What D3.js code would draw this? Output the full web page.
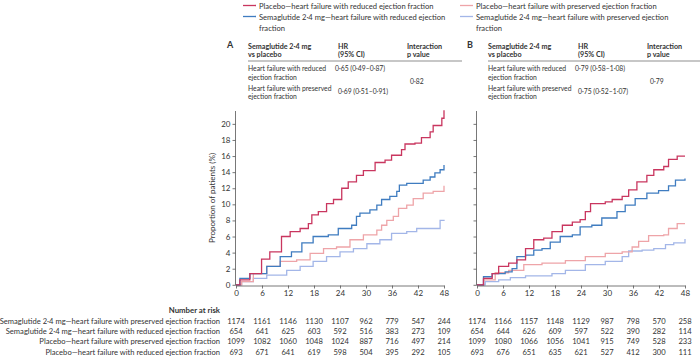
<!DOCTYPE html>
<html>
<head>
<meta charset="utf-8">
<script src="https://cdn.jsdelivr.net/npm/d3@7"></script>
<style>
  body { margin: 0; background: #fff; }
  svg text { font-family: Lato, "Open Sans", sans-serif; fill: #333; }
</style>
</head>
<body>
<svg id="chart" width="700" height="363"></svg>
<script>
// month ticks used for x axis + number at risk
const months = [0, 6, 12, 18, 24, 30, 36, 42, 48];
const yTicks = [0, 2, 4, 6, 8, 10, 12, 14, 16, 18, 20];

// cumulative incidence, [month, %], panel A
const aPlaceboRed = [[0,0],[0.9,0.6],[3.2,1.4],[5.9,3.2],[7.8,4.1],[10.5,6.0],[12.5,6.6],[14.8,7.0],[16.7,7.6],[17.5,8.7],[19,9.1],[20.9,10.1],[22.5,10.6],[24.4,12.0],[25.9,12.8],[27.8,13.6],[29.4,14.2],[32.1,15.2],[34.4,15.5],[35.9,16.1],[38.2,16.8],[39,17.5],[41.3,17.6],[42.8,18.3],[44.8,19.0],[45.5,19.8],[47.5,20.7],[48,21.7]];
const aSemaRed = [[0,0],[0.9,0.8],[3.2,1.4],[7.1,2.3],[10.2,3.5],[12.8,4.1],[15.2,5.2],[17.8,6.0],[21.3,6.2],[23.6,7.0],[26.7,7.4],[27.8,8.5],[28.6,8.9],[30.9,9.3],[32.5,9.9],[33.6,10.6],[35.5,11.0],[37.1,11.6],[37.7,12.4],[39.4,12.6],[43.2,13.0],[44.8,13.4],[45.9,13.9],[47.1,14.3],[48,14.9]];
const aPlaceboPres = [[0,0],[1.3,0.4],[4,1.4],[7.1,2.3],[10.2,2.9],[14,3.1],[17.1,3.9],[20.2,4.5],[23.2,4.7],[26.3,5.6],[29.4,6.2],[32.5,6.8],[33.6,7.4],[34.8,8.0],[36.3,8.5],[37.5,9.5],[39.4,9.9],[40.9,10.7],[43.2,11.4],[45.5,11.6],[48,12.3]];
const aSemaPres = [[0,0],[1.3,0.4],[4,0.8],[7.1,1.2],[11.7,1.8],[14.8,2.3],[17.8,2.9],[20.9,3.5],[24,4.1],[27.1,4.5],[30.2,5.1],[33.2,5.6],[35.9,6.4],[39.4,6.6],[41.7,7.0],[47.1,8.0],[48,8.1]];

// panel B
const bPlaceboRed = [[0,0],[1.5,0.8],[3.5,1.4],[5,2.3],[7.3,2.7],[9.2,3.1],[11.2,4.5],[13.1,5.6],[15.4,5.8],[17.3,6.6],[19.7,7.4],[22,7.8],[23.8,8.1],[25,9.1],[26.2,10.1],[29.6,10.3],[31.2,10.6],[33.5,11.0],[35,11.8],[36.9,12.8],[39.2,13.6],[40.8,14.3],[43.1,14.7],[44.2,15.6],[46.2,16.0],[48,16.0]];
const bSemaRed = [[0,0],[1.5,1.0],[3.5,1.4],[6.5,1.6],[8.1,2.0],[9.2,3.5],[11.2,3.7],[13.1,4.3],[15,4.5],[16.9,5.3],[19.2,6.0],[22,6.2],[23.8,7.2],[26.5,7.4],[28.8,8.3],[32.3,9.1],[34.2,9.9],[36.5,10.7],[39.2,11.4],[41.9,11.7],[44.2,12.3],[45.8,13.0],[48,13.2]];
const bPlaceboPres = [[0,0],[1.5,0.6],[4.2,1.5],[7.3,1.8],[10.8,2.5],[15,2.7],[20.4,3.0],[25,3.5],[29.6,3.9],[33.5,4.1],[35.8,4.7],[37.3,5.4],[39.6,6.1],[43.1,6.2],[44.2,7.0],[46.2,7.6],[48,7.6]];
const bSemaPres = [[0,0],[1.9,0.4],[5,0.6],[7.7,0.9],[11.2,1.1],[17.3,1.4],[20.4,1.8],[25,2.5],[29.6,2.9],[33.5,3.5],[35,4.2],[38.1,4.3],[40.8,4.5],[43.5,5.0],[45.4,5.2],[48,5.7]];

// number at risk rows
const riskLabels = [
  "Semaglutide 2·4 mg—heart failure with preserved ejection fraction",
  "Semaglutide 2·4 mg—heart failure with reduced ejection fraction",
  "Placebo—heart failure with preserved ejection fraction",
  "Placebo—heart failure with reduced ejection fraction"
];
const riskA = [
  [1174,1161,1146,1130,1107,962,779,547,244],
  [654,641,625,603,592,516,383,273,109],
  [1099,1082,1060,1048,1024,887,716,497,214],
  [693,671,641,619,598,504,395,292,105]
];
const riskB = [
  [1174,1166,1157,1148,1129,987,798,570,258],
  [654,644,626,609,597,522,390,282,114],
  [1099,1080,1066,1056,1041,915,749,528,233],
  [693,676,651,635,621,527,412,300,111]
];

const legendItems = [
  "Placebo—heart failure with reduced ejection fraction",
  "Semaglutide 2·4 mg—heart failure with reduced ejection fraction",
  "Placebo—heart failure with preserved ejection fraction",
  "Semaglutide 2·4 mg—heart failure with preserved ejection fraction"
];

const tableA = { letter: "A", hr: ["0·65 (0·49–0·87)", "0·69 (0·51–0·91)"], p: "0·82" };
const tableB = { letter: "B", hr: ["0·79 (0·58–1·08)", "0·75 (0·52–1·07)"], p: "0·79" };

const colRed = "#c9365f", colBlue = "#3f7cc0", colPinkL = "#eea4a8", colBlueL = "#a3b6e8";

const svg = d3.select("#chart");

const y = d3.scaleLinear().domain([0, 21.6]).range([284.8, 111]);

function legend(x, yy, items) {
  const g = svg.append("g");
  items.forEach((it, i) => {
    const row = yy + i * 11;
    g.append("line").attr("x1", x).attr("x2", x + 13).attr("y1", row - 3).attr("y2", row - 3)
      .attr("stroke", it.c).attr("stroke-width", 1.3);
    it.lines.forEach((t, j) => {
      g.append("text").attr("x", x + 16).attr("y", row + j * 11).attr("font-size", 7.6).text(t);
    });
  });
}
legend(243, 8.5, [
  { c: colRed, lines: [legendItems[0]] },
  { c: colBlue, lines: ["Semaglutide 2·4 mg—heart failure with reduced ejection", "fraction"] }
]);
legend(460, 8.5, [
  { c: colPinkL, lines: [legendItems[2]] },
  { c: colBlueL, lines: ["Semaglutide 2·4 mg—heart failure with preserved ejection", "fraction"] }
]);

function table(x0, t, right) {
  const g = svg.append("g");
  g.append("text").attr("x", x0 - 21).attr("y", 48).attr("font-size", 9).attr("font-weight", 700).text(t.letter);
  const hdr = (x, yy, s) => g.append("text").attr("x", x).attr("y", yy).attr("font-size", 7.2).attr("font-weight", 700).text(s);
  hdr(x0, 48.5, "Semaglutide 2·4 mg"); hdr(x0, 56.5, "vs placebo");
  hdr(x0 + 90, 48.5, "HR"); hdr(x0 + 90, 56.5, "(95% CI)");
  hdr(x0 + 159, 48.5, "Interaction"); hdr(x0 + 159, 56.5, "p value");
  g.append("line").attr("x1", x0).attr("x2", right).attr("y1", 61).attr("y2", 61).attr("stroke", "#444").attr("stroke-width", 0.6);
  const txt = (x, yy, s) => g.append("text").attr("x", x).attr("y", yy).attr("font-size", 6.8).attr("fill", "#444").text(s);
  txt(x0, 70.5, "Heart failure with reduced"); txt(x0, 79.5, "ejection fraction");
  txt(x0, 90.5, "Heart failure with preserved"); txt(x0, 99, "ejection fraction");
  txt(x0 + 87, 70.5, t.hr[0]);
  txt(x0 + 90, 93.5, t.hr[1]);
  txt(x0 + 162, 84, t.p);
}
table(248, tableA, 462);
table(488, tableB, 700);

const line = d3.line().curve(d3.curveStepAfter);

function panel(x0, x1, series, showY, risk) {
  const x = d3.scaleLinear().domain([0, 48]).range([x0, x1]);
  const g = svg.append("g");
  line.x(d => x(d[0])).y(d => y(d[1]));
  series.forEach(s => {
    g.append("path").datum(s.d).attr("d", line).attr("fill", "none")
      .attr("stroke", s.c).attr("stroke-width", 1.3);
  });
  const xa = g.append("g").attr("transform", "translate(0,285.5)")
    .call(d3.axisBottom(x).tickValues(months).tickSize(3).tickSizeOuter(0).tickPadding(2));
  const ya = g.append("g").attr("transform", `translate(${x0 - 0.5},0)`)
    .call(d3.axisLeft(y).tickValues(yTicks).tickSize(3).tickSizeOuter(0).tickPadding(2)
      .tickFormat(showY ? d3.format("d") : ""));
  ya.select(".domain").attr("d", `M0,${y(0) + 0.7}V111`);
  [xa, ya].forEach(a => {
    a.selectAll("path,line").attr("stroke", "#555").attr("stroke-width", 0.8);
    a.selectAll("text").attr("font-size", 8).attr("fill", "#333").style("font-family", "Lato, 'Open Sans', sans-serif");
  });
  risk.forEach((row, i) => {
    g.selectAll(null).data(row).enter().append("text")
      .attr("x", (d, j) => x(months[j])).attr("y", 324 + i * 10.2)
      .attr("text-anchor", "middle").attr("font-size", 7.6).text(d => d);
  });
}

panel(236, 444, [
  { d: aSemaPres, c: colBlueL }, { d: aPlaceboPres, c: colPinkL },
  { d: aSemaRed, c: colBlue }, { d: aPlaceboRed, c: colRed }
], true, riskA);
panel(477, 685, [
  { d: bSemaPres, c: colBlueL }, { d: bPlaceboPres, c: colPinkL },
  { d: bSemaRed, c: colBlue }, { d: bPlaceboRed, c: colRed }
], false, riskB);

svg.append("text").attr("transform", "translate(215,198) rotate(-90)")
  .attr("text-anchor", "middle").attr("font-size", 8).text("Proportion of patients (%)");

svg.append("text").attr("x", 220).attr("y", 313).attr("text-anchor", "end")
  .attr("font-size", 7.8).attr("font-weight", 700).text("Number at risk");
riskLabels.forEach((t, i) => {
  svg.append("text").attr("x", 220).attr("y", 324 + i * 10.2).attr("text-anchor", "end")
    .attr("font-size", 7.6).text(t);
});
</script>
</body>
</html>
